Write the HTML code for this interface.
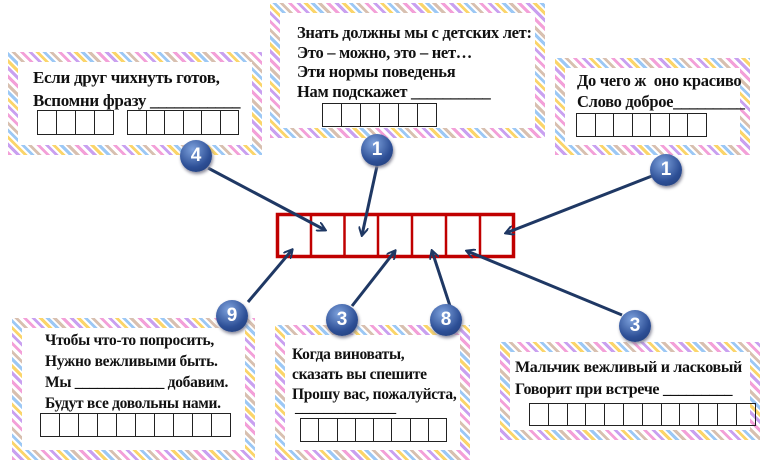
<!DOCTYPE html>
<html><head><meta charset="utf-8"><style>
body{margin:0;width:772px;height:462px;background:#fff;position:relative;overflow:hidden;font-family:"Liberation Serif",serif;font-weight:bold;color:#111}
.fr{position:absolute;box-sizing:border-box;border:10px solid transparent;border-image:repeating-linear-gradient(45deg,#f3a0d8 0 3px,#fff 3px 6px,#c9a0f0 6px 9px,#fff 9px 11px,#fbd56a 11px 14px,#fff 14px 16px,#9cc8f5 16px 19px,#fff 19px 21px,#d8c0b0 21px 24px,#fff 24px 27px) 10}
.t{position:absolute;font-size:16.5px;line-height:21px;white-space:nowrap;letter-spacing:-0.3px}
.cells{position:absolute;display:flex;border-left:1.5px solid #222}
.cells span{border:1.5px solid #222;border-left:none;box-sizing:border-box}
.c{position:absolute;width:32px;height:32px;border-radius:50%;background:radial-gradient(circle at 40% 30%,#7ea2dd,#2d4f96 60%,#1d3770);color:#fff;font:bold 19px "Liberation Sans",sans-serif;text-align:center;line-height:32px;box-shadow:1px 2px 3px #889}
</style></head><body>
<div class="fr" style="left:8px;top:52px;width:254px;height:103px"></div>
<div class="t" style="left:33px;top:66px;font-size:17px;line-height:23px">Если друг чихнуть готов,<br>Вспомни фразу ___________</div>
<div class="cells" style="left:37px;top:110px"><span style="width:19px;height:25px"></span><span style="width:19px;height:25px"></span><span style="width:19px;height:25px"></span><span style="width:19px;height:25px"></span></div>
<div class="cells" style="left:127px;top:110px"><span style="width:18.5px;height:25px"></span><span style="width:18.5px;height:25px"></span><span style="width:18.5px;height:25px"></span><span style="width:18.5px;height:25px"></span><span style="width:18.5px;height:25px"></span><span style="width:18.5px;height:25px"></span></div>

<div class="fr" style="left:270px;top:3px;width:275px;height:135px"></div>
<div class="t" style="left:297px;top:23px;line-height:19.5px">Знать должны мы с детских лет:<br>Это – можно, это – нет…<br>Эти нормы поведенья<br>Нам подскажет __________</div>
<div class="cells" style="left:322px;top:103px"><span style="width:19px;height:24px"></span><span style="width:19px;height:24px"></span><span style="width:19px;height:24px"></span><span style="width:19px;height:24px"></span><span style="width:19px;height:24px"></span><span style="width:19px;height:24px"></span></div>

<div class="fr" style="left:555px;top:58px;width:195px;height:97px"></div>
<div class="t" style="left:577px;top:70px;font-size:16.5px">До чего ж&nbsp; оно красиво<br>Слово доброе_________</div>
<div class="cells" style="left:576px;top:113px"><span style="width:18.5px;height:24px"></span><span style="width:18.5px;height:24px"></span><span style="width:18.5px;height:24px"></span><span style="width:18.5px;height:24px"></span><span style="width:18.5px;height:24px"></span><span style="width:18.5px;height:24px"></span><span style="width:18.5px;height:24px"></span></div>

<div class="fr" style="left:12px;top:318px;width:243px;height:142px"></div>
<div class="t" style="left:45px;top:330px;line-height:21px;font-size:15.5px">Чтобы что-то попросить,<br>Нужно вежливыми быть.<br>Мы ____________ добавим.<br>Будут все довольны нами.</div>
<div class="cells" style="left:40px;top:413px"><span style="width:19px;height:24px"></span><span style="width:19px;height:24px"></span><span style="width:19px;height:24px"></span><span style="width:19px;height:24px"></span><span style="width:19px;height:24px"></span><span style="width:19px;height:24px"></span><span style="width:19px;height:24px"></span><span style="width:19px;height:24px"></span><span style="width:19px;height:24px"></span><span style="width:19px;height:24px"></span></div>

<div class="fr" style="left:275px;top:325px;width:195px;height:135px"></div>
<div class="t" style="left:292px;top:345px;line-height:20px;font-size:15.5px">Когда виноваты,<br>сказать вы спешите<br>Прошу вас, пожалуйста,</div>
<div class="t" style="left:295px;top:398px;font-size:15px">______________</div>
<div class="cells" style="left:300px;top:418px"><span style="width:18.3px;height:24px"></span><span style="width:18.3px;height:24px"></span><span style="width:18.3px;height:24px"></span><span style="width:18.3px;height:24px"></span><span style="width:18.3px;height:24px"></span><span style="width:18.3px;height:24px"></span><span style="width:18.3px;height:24px"></span><span style="width:18.3px;height:24px"></span></div>

<div class="fr" style="left:500px;top:342px;width:260px;height:98px"></div>
<div class="t" style="left:515px;top:357px;line-height:22px;font-size:16px">Мальчик вежливый и ласковый<br>Говорит при встрече _________</div>
<div class="cells" style="left:529px;top:403px"><span style="width:18.8px;height:23px"></span><span style="width:18.8px;height:23px"></span><span style="width:18.8px;height:23px"></span><span style="width:18.8px;height:23px"></span><span style="width:18.8px;height:23px"></span><span style="width:18.8px;height:23px"></span><span style="width:18.8px;height:23px"></span><span style="width:18.8px;height:23px"></span><span style="width:18.8px;height:23px"></span><span style="width:18.8px;height:23px"></span><span style="width:18.8px;height:23px"></span><span style="width:18.8px;height:23px"></span></div>

<svg style="position:absolute;left:0;top:0" width="772" height="462">
<rect x="277.5" y="214.5" width="236" height="42" fill="#fff" stroke="#c00000" stroke-width="3.5"/>
<g stroke="#c00000" stroke-width="2.5"><line x1="311" y1="214" x2="311" y2="257"/><line x1="344.5" y1="214" x2="344.5" y2="257"/><line x1="378" y1="214" x2="378" y2="257"/><line x1="412" y1="214" x2="412" y2="257"/><line x1="446" y1="214" x2="446" y2="257"/><line x1="480" y1="214" x2="480" y2="257"/></g>
<defs><marker id="a" markerWidth="10" markerHeight="10" refX="8" refY="5" orient="auto" markerUnits="userSpaceOnUse"><path d="M0,0 L9,5 L0,10" fill="none" stroke="#1f3864" stroke-width="2"/></marker></defs>
<g stroke="#1f3864" stroke-width="3" marker-end="url(#a)">
<line x1="208" y1="168" x2="325" y2="230"/>
<line x1="377" y1="166" x2="362" y2="235"/>
<line x1="652" y1="176" x2="506" y2="233"/>
<line x1="248" y1="302" x2="292" y2="250"/>
<line x1="352" y1="306" x2="395" y2="251"/>
<line x1="450" y1="306" x2="432" y2="251"/>
<line x1="622" y1="315" x2="467" y2="251"/>
</g></svg>
<div class="c" style="left:180px;top:140px">4</div>
<div class="c" style="left:361px;top:134px">1</div>
<div class="c" style="left:650px;top:154px">1</div>
<div class="c" style="left:216px;top:300px">9</div>
<div class="c" style="left:326px;top:304px">3</div>
<div class="c" style="left:430px;top:304px">8</div>
<div class="c" style="left:619px;top:310px">3</div>
</body></html>
